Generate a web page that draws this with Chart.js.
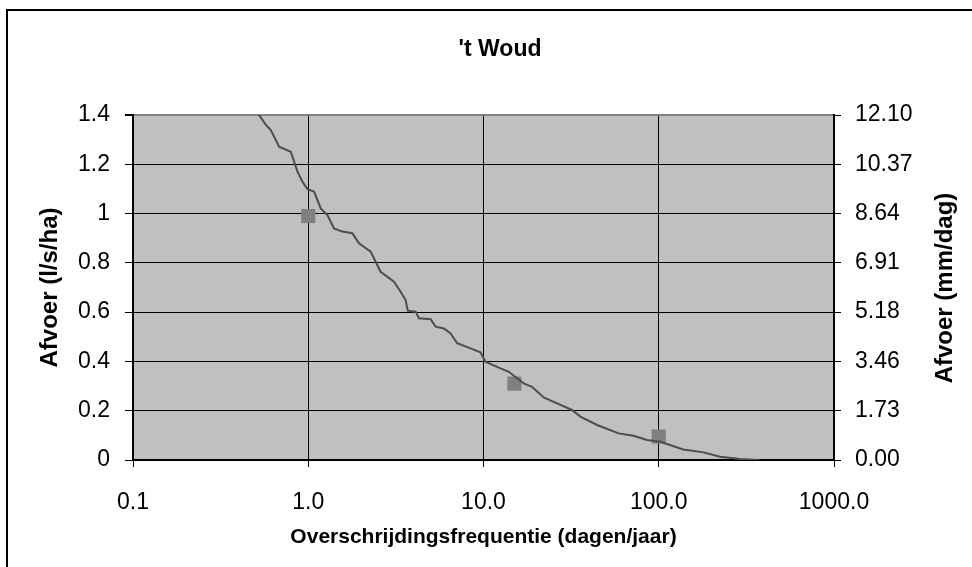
<!DOCTYPE html>
<html lang="nl">
<head>
  <meta charset="UTF-8" />
  <title>'t Woud</title>
  <script src="https://cdn.jsdelivr.net/npm/chart.js"></script>
  <style>
    html, body {
      margin: 0;
      padding: 0;
      background: #ffffff;
    }
    #wrap {
      width: 972px;
      height: 567px;
    }
  </style>
</head>
<body>
  <div id="wrap"><canvas id="woud" width="972" height="567"></canvas></div>

  <script>
    // Overschrijdingsduurlijn (dagen/jaar -> l/s/ha)
    const curveFreq = [0.49, 0.573, 0.611, 0.682, 0.795, 0.868, 0.927, 0.99, 1.079, 1.178, 1.286, 1.403, 1.566, 1.785, 1.948, 2.271, 2.588, 3.084, 3.367, 3.594, 3.70, 4.10, 4.28, 4.99, 5.33, 5.94, 6.49, 7.08, 8.43, 9.61, 10.26, 12.22, 13.94, 16.97, 18.9, 22.06, 26.3, 32.0, 35.7, 44.5, 59.0, 71.9, 85.7, 102, 116, 138, 180, 224, 291, 371];
    const curveQ = [1.43, 1.36, 1.339, 1.271, 1.251, 1.170, 1.129, 1.099, 1.089, 1.021, 0.994, 0.940, 0.927, 0.920, 0.879, 0.845, 0.764, 0.724, 0.683, 0.649, 0.606, 0.602, 0.575, 0.571, 0.541, 0.534, 0.514, 0.474, 0.453, 0.437, 0.399, 0.375, 0.358, 0.311, 0.297, 0.254, 0.230, 0.203, 0.176, 0.142, 0.108, 0.0987, 0.081, 0.074, 0.061, 0.043, 0.031, 0.013, 0.004, 0];

    // normpunten (grey squares)
    const normFreq = [1, 15, 100];
    const normQ = [0.99, 0.31, 0.095];

    const xTickValues = [0.1, 1, 10, 100, 1000];
    const xTickLabels = ['0.1', '1.0', '10.0', '100.0', '1000.0'];
    const yTickValues = [0, 0.2, 0.4, 0.6, 0.8, 1, 1.2, 1.4];
    const yTickLabels = ['0', '0.2', '0.4', '0.6', '0.8', '1', '1.2', '1.4'];
    const y2TickLabels = ['0.00', '1.73', '3.46', '5.18', '6.91', '8.64', '10.37', '12.10'];

    const FONT = "'Liberation Sans', Arial, sans-serif";

    // white page, frame, grey plot area, chart title and right axis title
    const decor = {
      id: 'decor',
      beforeDraw(chart) {
        const { ctx, chartArea: a } = chart;
        ctx.save();
        ctx.fillStyle = '#ffffff';
        ctx.fillRect(0, 0, chart.width, chart.height);
        ctx.fillStyle = '#c0c0c0';
        ctx.fillRect(a.left, a.top, a.right - a.left, a.bottom - a.top);
        ctx.strokeStyle = '#000';
        ctx.lineWidth = 2;
        ctx.beginPath();
        ctx.moveTo(7, chart.height);
        ctx.lineTo(7, 10);
        ctx.lineTo(chart.width, 10);
        ctx.stroke();
        ctx.restore();
      },
      afterDraw(chart) {
        const { ctx } = chart;
        ctx.save();
        ctx.fillStyle = '#000';
        ctx.textAlign = 'center';
        ctx.textBaseline = 'middle';
        ctx.font = 'bold 23px ' + FONT;
        ctx.fillText("'t Woud", 500, 50);
        ctx.translate(945, 288);
        ctx.rotate(-Math.PI / 2);
        ctx.font = 'bold 24px ' + FONT;
        ctx.fillText('Afvoer (mm/dag)', 0, 0);
        ctx.restore();
      }
    };

    function setTicks(values) {
      return scale => { scale.ticks = values.map(v => ({ value: v })); };
    }

    new Chart(document.getElementById('woud'), {
      type: 'scatter',
      data: {
        datasets: [{
          label: 'Afvoer',
          data: curveFreq.map((f, i) => ({ x: f, y: curveQ[i] })),
          showLine: true,
          borderColor: '#4d4d4d',
          borderWidth: 2,
          pointRadius: 0,
          tension: 0,
          yAxisID: 'y'
        }, {
          label: 'Norm',
          data: normFreq.map((f, i) => ({ x: f, y: normQ[i] })),
          showLine: false,
          pointStyle: 'rect',
          pointRadius: 10,
          backgroundColor: '#808080',
          borderWidth: 0,
          yAxisID: 'y'
        }]
      },
      options: {
        responsive: false,
        animation: false,
        layout: { padding: { top: 115, left: 0, right: 0, bottom: 0 } },
        plugins: {
          legend: { display: false },
          tooltip: { enabled: false },
          title: { display: false }
        },
        scales: {
          x: {
            type: 'logarithmic',
            min: 0.1,
            max: 1000,
            afterBuildTicks: setTicks(xTickValues),
            afterFit: s => { s.height = 107; },
            border: { color: '#000', width: 2 },
            grid: { color: '#000', lineWidth: 1, tickLength: 7, tickColor: '#000' },
            ticks: {
              color: '#000',
              font: { family: FONT, size: 23 },
              padding: 22,
              maxRotation: 0,
              autoSkip: false,
              callback: (v, i) => xTickLabels[i]
            },
            title: {
              display: true,
              text: 'Overschrijdingsfrequentie (dagen/jaar)',
              color: '#000',
              font: { family: FONT, size: 21, weight: 'bold' },
              padding: { top: 0, bottom: 17 }
            }
          },
          y: {
            position: 'left',
            min: 0,
            max: 1.4,
            afterBuildTicks: setTicks(yTickValues),
            afterFit: s => { s.width = 133; },
            border: { color: '#000', width: 2 },
            grid: {
              color: c => (c.tick && c.tick.value === 1.4 ? '#808080' : '#000'),
              lineWidth: c => (c.tick && c.tick.value === 1.4 ? 2 : 1),
              tickLength: 8,
              tickColor: '#000'
            },
            ticks: {
              color: '#000',
              font: { family: FONT, size: 23 },
              padding: 15,
              callback: (v, i) => yTickLabels[i]
            },
            title: {
              display: true,
              text: 'Afvoer (l/s/ha)',
              color: '#000',
              font: { family: FONT, size: 24, weight: 'bold' },
              padding: { top: 36, bottom: 0 }
            }
          },
          y2: {
            position: 'right',
            min: 0,
            max: 1.4,
            afterBuildTicks: setTicks(yTickValues),
            afterFit: s => { s.width = 138; },
            border: { color: '#000', width: 2 },
            grid: { drawOnChartArea: false, tickLength: 7, tickColor: '#000' },
            ticks: {
              color: '#000',
              font: { family: FONT, size: 23 },
              padding: 14,
              callback: (v, i) => y2TickLabels[i]
            }
          }
        }
      },
      plugins: [decor]
    });
  </script>
</body>
</html>
